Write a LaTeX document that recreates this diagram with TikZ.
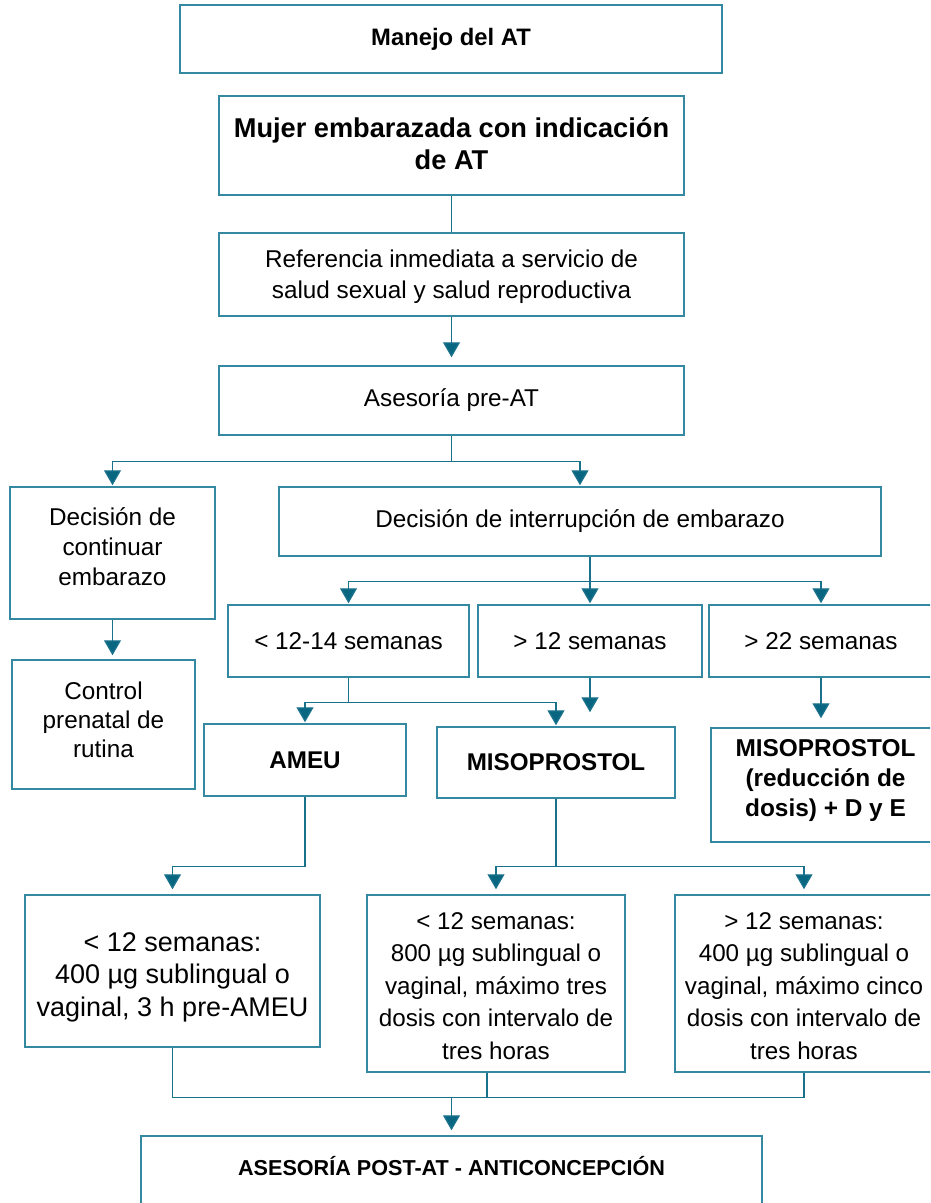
\documentclass[tikz,border=0pt]{standalone}
\usepackage{fontspec}
\setmainfont{Liberation Sans}
\usetikzlibrary{arrows.meta,calc}
\definecolor{bordc}{RGB}{52,136,160}
\definecolor{linec}{RGB}{26,113,140}
\definecolor{tipc}{RGB}{8,102,128}
\begin{document}
\begin{tikzpicture}[x=1pt,y=-1pt,
  box/.style={draw=bordc, line width=1.5pt, rectangle, align=center, inner sep=0pt, text=black},
  reg/.style={font=\fontsize{24.3}{31}\selectfont},
  conn/.style={draw=linec, line width=1.4pt},
  arr/.style={conn, -{Triangle[width=17pt,length=15pt,fill=tipc]}, shorten >=1pt}
]
\clip (0,0) rectangle (930,1203);
\fill[white] (0,0) rectangle (930,1203);

\node[box, minimum width=542, minimum height=68, font=\bfseries\fontsize{23.8}{28}\selectfont] (manejo) at (451,39) {Manejo del AT};
\node[box, minimum width=465, minimum height=99, font=\bfseries\fontsize{27.2}{32}\selectfont, text depth=4pt] (mujer) at (451.5,145.5) {Mujer embarazada con indicación\\de AT};
\node[box, reg, minimum width=465, minimum height=83, text depth=0pt] (ref) at (451.5,274.5) {Referencia inmediata a servicio de\\salud sexual y salud reproductiva};
\node[box, reg, minimum width=465, minimum height=69] (ases) at (451.5,400.5) {Asesoría pre-AT};
\node[box, font=\fontsize{24.3}{30}\selectfont, minimum width=205, minimum height=132, text depth=12pt] (cont) at (112.5,553) {Decisión de\\continuar\\embarazo};
\node[box, reg, minimum width=602, minimum height=69] (interr) at (580,521.5) {Decisión de interrupción de embarazo};
\node[box, reg, minimum width=241, minimum height=72] (s1214) at (348.5,641) {< 12-14 semanas};
\node[box, reg, minimum width=224, minimum height=72] (s12) at (590,641) {> 12 semanas};
\node[box, reg, minimum width=224, minimum height=72] (s22) at (821,641) {> 22 semanas};
\node[box, font=\fontsize{24.3}{29}\selectfont, minimum width=183, minimum height=129, text depth=10pt] (control) at (103.5,724.5) {Control\\prenatal de\\rutina};
\node[box, minimum width=202, minimum height=72, font=\bfseries\fontsize{24.2}{30}\selectfont] (ameu) at (305,760) {AMEU};
\node[box, minimum width=238, minimum height=71, font=\bfseries\fontsize{24.2}{30}\selectfont] (miso) at (556,762.5) {MISOPROSTOL};
\node[box, minimum width=229, minimum height=114, font=\bfseries\fontsize{24.4}{30}\selectfont, text depth=14pt] (misor) at (825.5,785) {MISOPROSTOL\\(reducción de\\dosis) + D y E};
\node[box, minimum width=295, minimum height=152, font=\fontsize{27}{32.5}\selectfont] (d1) at (172.5,971) {\rule{0pt}{31.5pt}< 12 semanas:\\400 µg sublingual o\\vaginal, 3 h pre-AMEU};
\node[box, minimum width=258, minimum height=177, font=\fontsize{24.2}{32.5}\selectfont] (d2) at (496,983.5) {\rule{0pt}{21.5pt}< 12 semanas:\\800 µg sublingual o\\vaginal, máximo tres\\dosis con intervalo de\\tres horas};
\node[box, minimum width=258, minimum height=177, font=\fontsize{24.2}{32.5}\selectfont] (d3) at (804,983.5) {\rule{0pt}{21.5pt}> 12 semanas:\\400 µg sublingual o\\vaginal, máximo cinco\\dosis con intervalo de\\tres horas};
\node[box, minimum width=621, minimum height=76, font=\bfseries\fontsize{21.6}{26}\selectfont, text depth=17pt] (post) at (451.5,1174) {ASESORÍA POST-AT - ANTICONCEPCIÓN};

% connectors
\draw[conn] (mujer.south) -- (ref.north);
\draw[arr, shorten >=8pt] (ref.south) -- (ases.north);
\draw[conn] (ases.south) -- ++(0,26) coordinate (j1);
\draw[arr] (j1) -| (cont.north);
\draw[arr] (j1) -| (interr.north);

\coordinate (j2) at ($(interr.south -| s12.north)+(0,25)$);
\draw[conn] (interr.south -| s12.north) -- (j2);
\draw[arr] (j2) -| (s1214.north);
\draw[arr] (j2) -| (s22.north);
\draw[arr] (j2) -- (s12.north);

\draw[arr, shorten >=4pt] (cont.south) -- (cont.south |- control.north);

\coordinate (j3) at ($(s1214.south)+(0,25)$);
\draw[conn] (s1214.south) -- (j3);
\draw[arr] (j3) -| (ameu.north);
\draw[arr] (j3) -| (miso.north);
\draw[arr, shorten >=14pt] (s12.south) -- (s12.south |- miso.north);
\draw[arr, shorten >=9pt] (s22.south) -- (s22.south |- misor.north);

\coordinate (j4) at ($(ameu.south)+(0,70)$);
\draw[conn] (ameu.south) -- (j4);
\draw[arr, shorten >=5pt] (j4) -| (d1.north);
\coordinate (j5) at ($(miso.south)+(0,68)$);
\draw[conn] (miso.south) -- (j5);
\draw[arr, shorten >=5pt] (j5) -| (d2.north);
\draw[arr, shorten >=5pt] (j5) -| (d3.north);

\coordinate (j6) at ($(post.north)+(0,-38)$);
\draw[conn] (d1.south) -- (d1.south |- j6) -- (d3.south |- j6) -- (d3.south);
\draw[conn] ([xshift=-9pt]d2.south) -- ([xshift=-9pt]d2.south |- j6);
\draw[arr, shorten >=5pt] (j6) -- (post.north);
\end{tikzpicture}
\end{document}
